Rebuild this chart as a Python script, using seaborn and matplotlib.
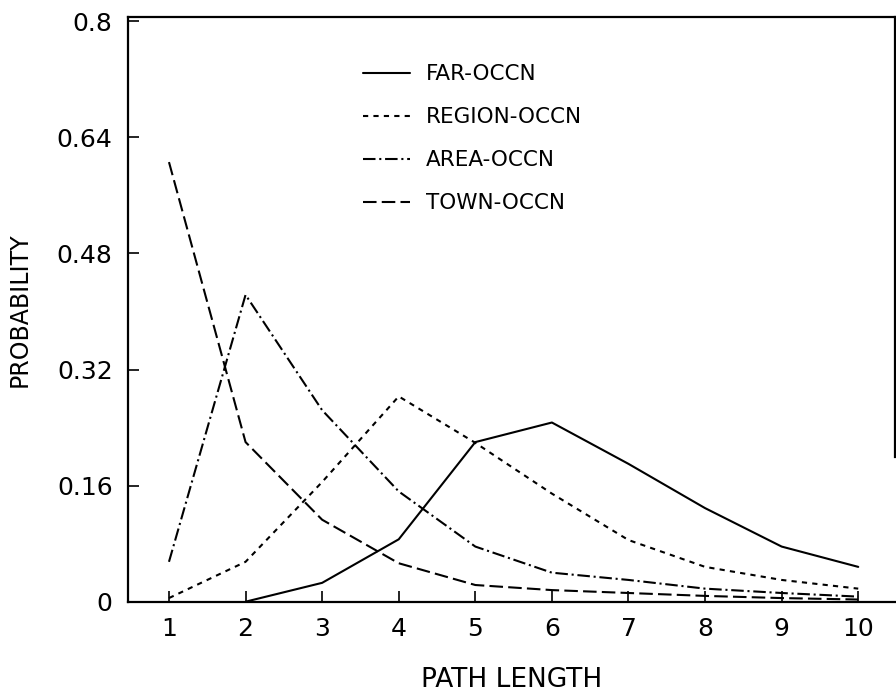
import matplotlib
matplotlib.use("Agg")
import matplotlib.pyplot as plt
import seaborn as sns
import pandas as pd

path_length = [1, 2, 3, 4, 5, 6, 7, 8, 9, 10]
far_x = [2, 3, 4, 5, 6, 7, 8, 9, 10]
far_occn = [0.0, 0.026, 0.086, 0.220, 0.247, 0.190, 0.129, 0.076, 0.048]
region_occn = [0.005, 0.055, 0.165, 0.283, 0.219, 0.149, 0.085, 0.048, 0.030, 0.018]
area_occn = [0.055, 0.423, 0.264, 0.152, 0.076, 0.040, 0.030, 0.018, 0.012, 0.007]
town_occn = [0.606, 0.220, 0.113, 0.053, 0.023, 0.016, 0.012, 0.008, 0.005, 0.003]
series_names = ["FAR-OCCN", "REGION-OCCN", "AREA-OCCN", "TOWN-OCCN"]
y_ticks = [0, 0.16, 0.32, 0.48, 0.64, 0.8]
y_tick_labels = ["0", "0.16", "0.32", "0.48", "0.64", "0.8"]

frames = [
    pd.DataFrame({"x": far_x, "y": far_occn, "series": series_names[0]}),
    pd.DataFrame({"x": path_length, "y": region_occn, "series": series_names[1]}),
    pd.DataFrame({"x": path_length, "y": area_occn, "series": series_names[2]}),
    pd.DataFrame({"x": path_length, "y": town_occn, "series": series_names[3]}),
]
df = pd.concat(frames, ignore_index=True)

sns.set_theme(style="white")
plt.rcParams["font.family"] = ["DejaVu Sans"]
plt.rcParams["text.color"] = "black"
plt.rcParams["axes.labelcolor"] = "black"

fig = plt.figure(figsize=(8.96, 6.98), dpi=100)
ax = fig.add_axes([128 / 896, 1 - 601.7 / 698, (895 - 128) / 896, (601.7 - 17) / 698])

dashes = {
    "FAR-OCCN": "",
    "REGION-OCCN": (2.5, 2.5),
    "AREA-OCCN": (6, 1.8, 1, 1.8),
    "TOWN-OCCN": (6.5, 2.5),
}
sns.lineplot(data=df, x="x", y="y", style="series", style_order=series_names,
             dashes=dashes, color="black", linewidth=1.5, ax=ax, legend=True)

handles, labels = ax.get_legend_handles_labels()
leg = ax.legend(handles, labels, loc="upper left", bbox_to_anchor=(0.306, 0.919),
                frameon=False, fontsize=15.5, handlelength=2.2, handletextpad=0.75,
                labelspacing=1.07, borderpad=0, borderaxespad=0)
for t in leg.get_texts():
    t.set_color("black")

ax.set_xlim(0.465, 10.48)
ax.set_ylim(0, 0.806)
ax.set_xticks(path_length)
ax.set_xticklabels([str(v) for v in path_length])
ax.set_yticks(y_ticks)
ax.set_yticklabels(y_tick_labels)
ax.tick_params(direction="in", length=8, width=1.2, colors="black",
               labelsize=18, bottom=True, left=True)
ax.tick_params(axis="y", pad=11)
ax.tick_params(axis="x", pad=11)

for s in ax.spines.values():
    s.set_color("black")
    s.set_linewidth(1.6)
ax.spines["right"].set_bounds(0.2, 0.806)

ax.set_xlabel("PATH LENGTH", fontsize=19, labelpad=19)
ax.set_ylabel("PROBABILITY", fontsize=17, labelpad=18)

fig.savefig("out.png", dpi=100)
